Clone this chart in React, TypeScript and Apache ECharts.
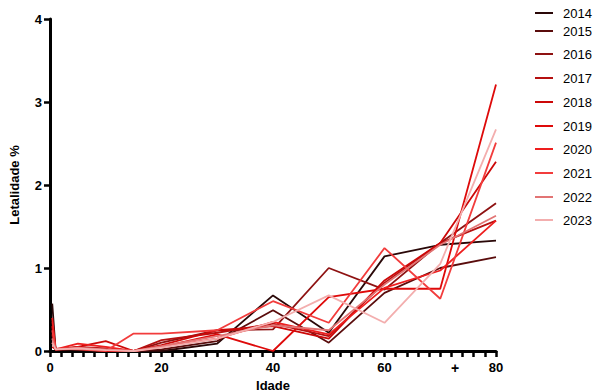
import React, { useEffect, useRef } from "react";
import * as echarts from "echarts";

const ages = [0.4, 1, 5, 10, 15, 20, 30, 40, 50, 60, 70, 80];
const years = ["2014", "2015", "2016", "2017", "2018", "2019", "2020", "2021", "2022", "2023"];
const colors = ["#2a0808", "#5a0c0c", "#8e1212", "#b51010", "#cc0808", "#de0a0a", "#ee1e1e", "#f23c3c", "#e27474", "#f3aeae"];

const v2014 = [0.57, 0.02, 0.01, 0, 0, 0, 0.09, 0.67, 0.22, 1.14, 1.28, 1.33];
const v2015 = [0.35, 0.02, 0.02, 0.01, 0, 0.02, 0.12, 0.49, 0.1, 0.7, 1.0, 1.13];
const v2016 = [0.2, 0.01, 0.03, 0.02, 0, 0.1, 0.25, 0.26, 1.0, 0.74, 1.3, 1.78];
const v2017 = [0.1, 0.02, 0.05, 0.03, 0, 0.13, 0.22, 0.33, 0.18, 0.82, 1.3, 1.57];
const v2018 = [0.05, 0.02, 0.05, 0.12, 0, 0.07, 0.25, 0.3, 0.15, 0.85, 1.3, 2.28];
const v2019 = [0.3, 0.02, 0.03, 0, 0, 0.05, 0.2, 0, 0.65, 0.75, 0.75, 3.21];
const v2020 = [0.4, 0.02, 0.09, 0.05, 0, 0.05, 0.15, 0.35, 0.2, 0.76, 0.97, 1.57];
const v2021 = [0.25, 0.03, 0.02, 0, 0.21, 0.21, 0.25, 0.6, 0.34, 1.24, 0.63, 2.51];
const v2022 = [0.15, 0.02, 0.04, 0.02, 0, 0.06, 0.18, 0.31, 0.25, 0.8, 1.28, 1.63];
const v2023 = [0.1, 0.02, 0.03, 0.01, 0, 0.04, 0.15, 0.35, 0.67, 0.34, 1.05, 2.67];
const values = [v2014, v2015, v2016, v2017, v2018, v2019, v2020, v2021, v2022, v2023];

const legendTops = [13, 31, 54, 78, 102, 126, 149, 173, 197, 220];
const FONT = "'Liberation Sans', Arial, sans-serif";

export default function App() {
  const ref = useRef<HTMLDivElement>(null);
  useEffect(() => {
    const chart = echarts.init(ref.current!, null, { renderer: "svg" });
    const series = years.map((y, i) => ({
      name: y,
      type: "line",
      data: ages.map((a, j) => [a, values[i][j]]),
      showSymbol: false,
      symbol: "none",
      lineStyle: { color: colors[i], width: 1.8 },
      itemStyle: { color: colors[i] },
      z: 2 + i,
    }));
    const legendGraphics: any[] = [];
    years.forEach((y, i) => {
      legendGraphics.push({
        type: "line",
        shape: { x1: 535, y1: legendTops[i], x2: 553, y2: legendTops[i] },
        style: { stroke: colors[i], lineWidth: 2 },
      });
      legendGraphics.push({
        type: "text",
        x: 563,
        y: legendTops[i],
        style: { text: y, font: `13px ${FONT}`, fill: "#000", verticalAlign: "middle", align: "left" },
      });
    });
    legendGraphics.push({
      type: "text",
      x: 455,
      y: 368,
      style: { text: "+", font: `bold 14px ${FONT}`, fill: "#000", verticalAlign: "middle", align: "center" },
    });
    chart.setOption({
      animation: false,
      backgroundColor: "#fff",
      grid: { left: 50, right: 99, top: 19, bottom: 41, containLabel: false, outerBoundsMode: "none" },
      xAxis: {
        type: "value",
        min: 0,
        max: 80,
        interval: 20,
        name: "Idade",
        nameLocation: "middle",
        nameGap: 27,
        nameTextStyle: { fontFamily: FONT, fontWeight: "bold", fontSize: 13, color: "#000" },
        axisLine: { lineStyle: { color: "#000", width: 3 } },
        axisTick: { show: true, length: 6, lineStyle: { color: "#000", width: 2.5 } },
        minorTick: { show: true, splitNumber: 10, length: 6, lineStyle: { color: "#000", width: 2.5 } },
        axisLabel: { fontFamily: FONT, fontWeight: "bold", fontSize: 13, color: "#000", margin: 10 },
        splitLine: { show: false },
      },
      yAxis: {
        type: "value",
        min: 0,
        max: 4,
        interval: 1,
        offset: 1,
        name: "Letalidade %",
        nameLocation: "middle",
        nameGap: 28,
        nameTextStyle: { fontFamily: FONT, fontWeight: "bold", fontSize: 13, color: "#000" },
        axisLine: { show: true, lineStyle: { color: "#000", width: 3 } },
        axisTick: { show: true, length: 6, lineStyle: { color: "#000", width: 2.5 } },
        axisLabel: { fontFamily: FONT, fontWeight: "bold", fontSize: 13, color: "#000", margin: 7 },
        splitLine: { show: false },
      },
      graphic: legendGraphics,
      series,
    });
    return () => chart.dispose();
  }, []);
  return <div ref={ref} style={{ width: 595, height: 392, position: "absolute", left: 0, top: 0 }} />;
}
